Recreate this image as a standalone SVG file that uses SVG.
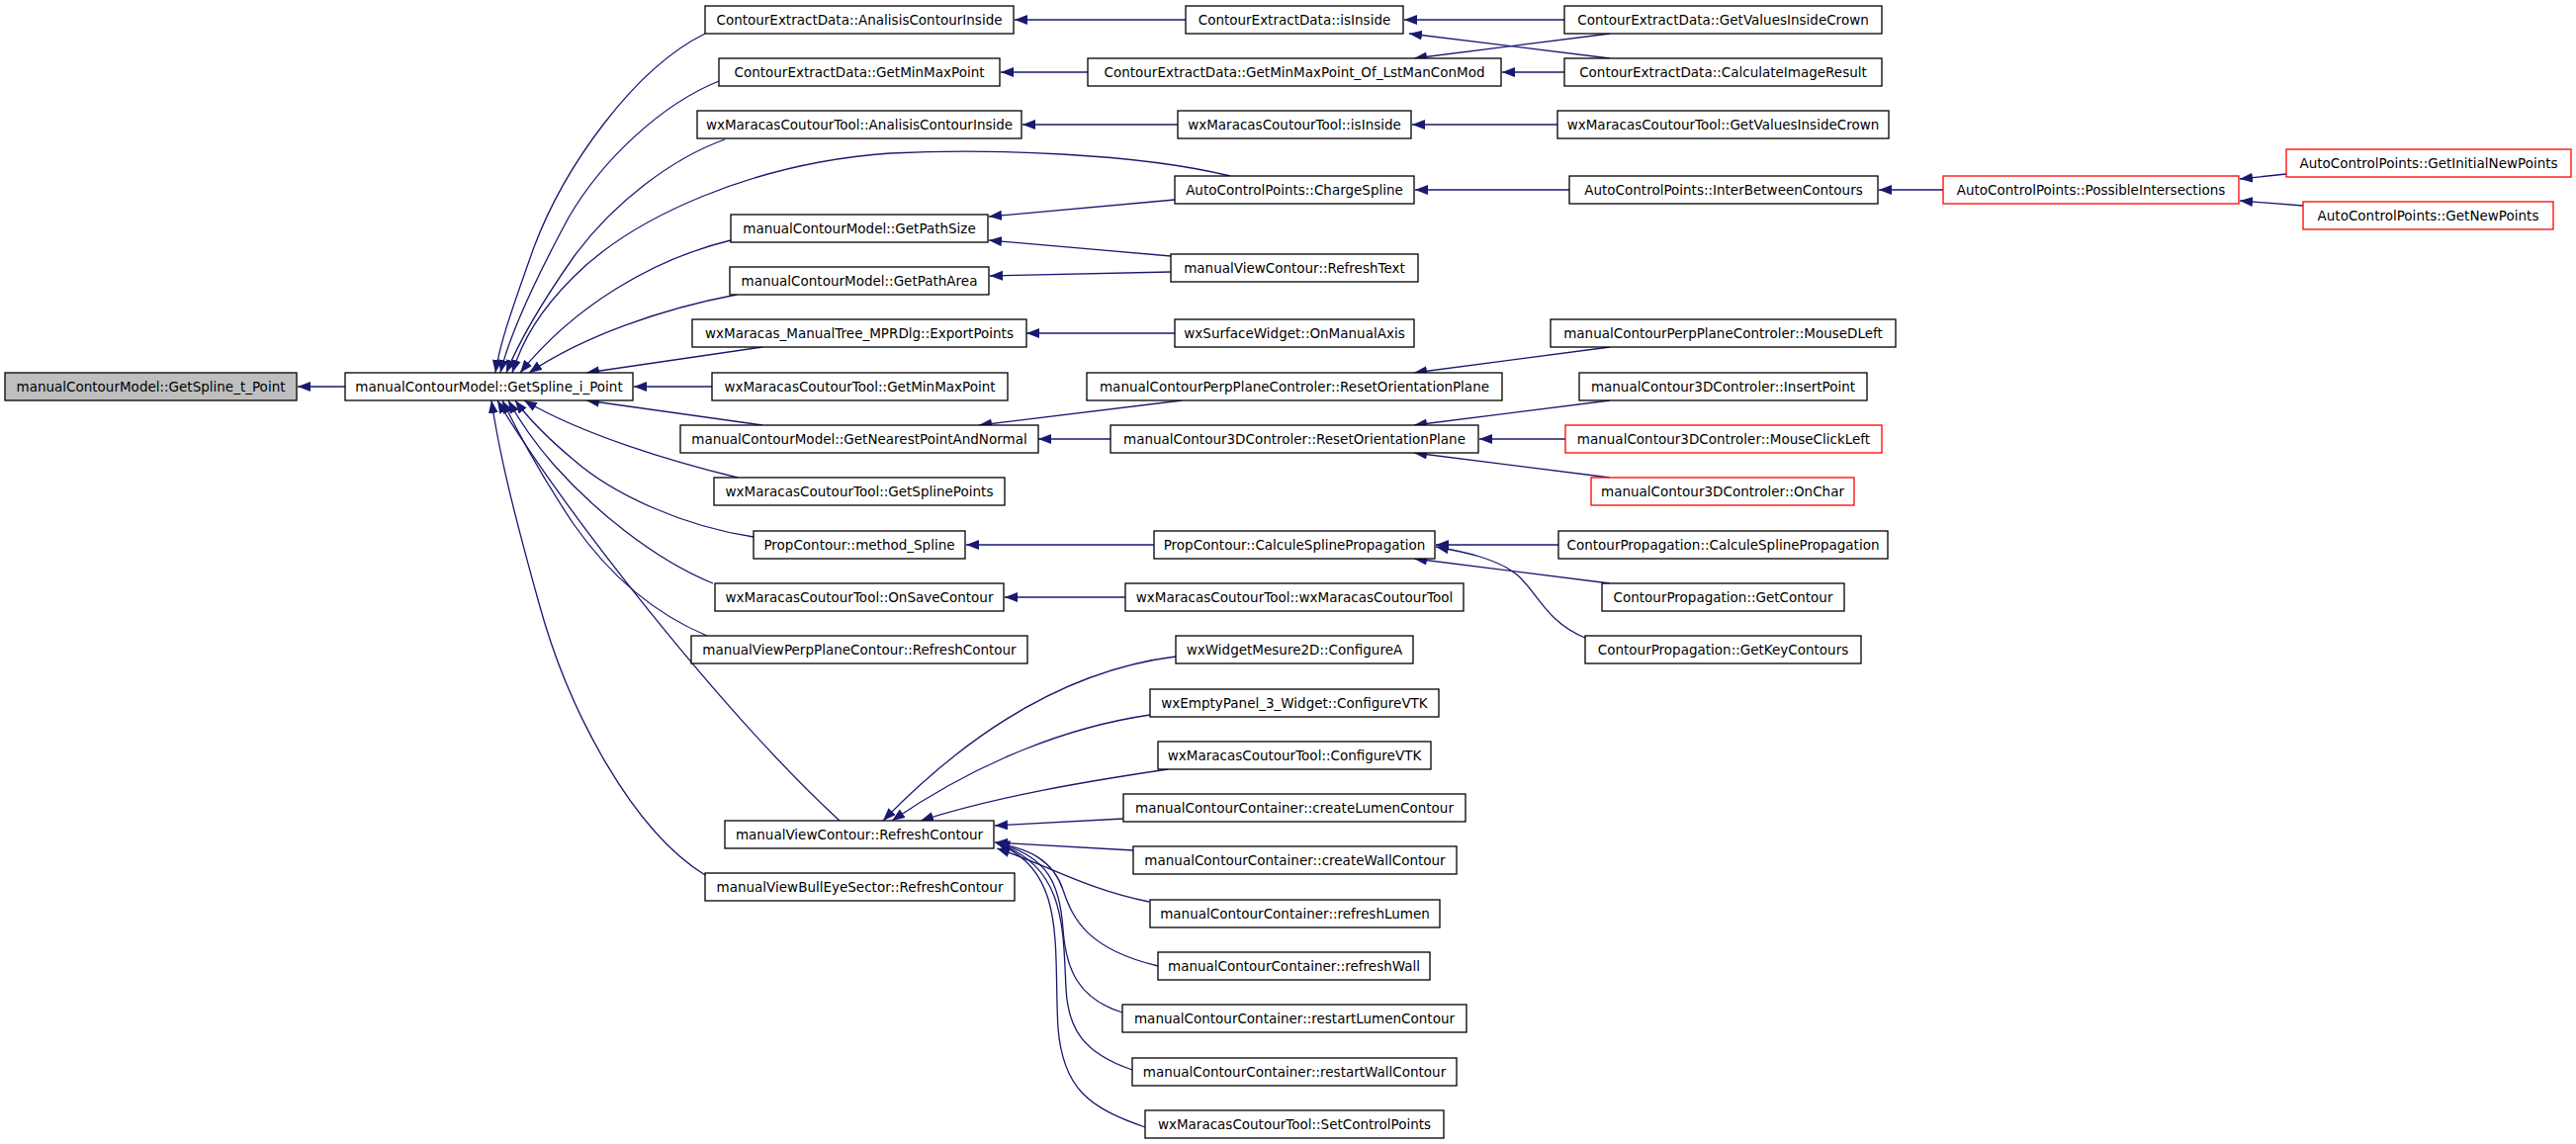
<svg xmlns="http://www.w3.org/2000/svg" width="2605" height="1157" viewBox="0 0 2605 1157">
<style>
.n rect{fill:#fff;stroke:#000;stroke-width:1.3}
.n.r rect{stroke:#ff0000}
.n.m rect{fill:#bfbfbf}
.n text{font-family:"DejaVu Sans","Liberation Sans",sans-serif;font-size:13.5px;text-anchor:middle;fill:#000}
#edges path{fill:none;stroke:#191970;stroke-width:1.3;marker-end:url(#a)}
</style>
<defs>
<marker id="a" markerUnits="userSpaceOnUse" markerWidth="14" markerHeight="11" refX="13" refY="5" orient="auto"><path d="M0,0 L13,5 L0,10 z" fill="#191970"/></marker>
</defs>
<rect width="2605" height="1157" fill="#fff"/>
<g id="edges">
<path d="M349,391 L301,391"/>
<path d="M720,391 L641,391"/>
<path d="M713,34 C640,70 570,170 540,250 C515,320 505,350 501,377"/>
<path d="M727,82 C670,105 610,160 575,220 C540,285 515,340 506,377"/>
<path d="M733,141 C680,160 620,205 580,260 C545,310 525,345 512,377"/>
<path d="M1244,178 C1150,155 1000,150 900,155 C760,165 640,220 580,280 C545,315 528,345 518,377"/>
<path d="M739,243 C660,262 580,310 526,377"/>
<path d="M745,298 C670,312 590,340 535,377"/>
<path d="M771,351 L593,377"/>
<path d="M771,430 L593,405"/>
<path d="M746,483 C680,467 590,440 530,405"/>
<path d="M762,543 C690,532 620,500 580,465 C550,440 532,420 521,405"/>
<path d="M721,590 C660,565 600,515 560,470 C540,447 525,425 514,405"/>
<path d="M715,643 C660,620 615,580 580,530 C550,485 525,440 508,405"/>
<path d="M849,830 C730,720 565,510 503,405"/>
<path d="M713,885 C640,840 575,720 545,610 C520,520 505,460 497,405"/>
<path d="M1199,20 L1026,20"/>
<path d="M1100,73 L1012,73"/>
<path d="M1191,126 L1034,126"/>
<path d="M1188,202 L1000,219"/>
<path d="M1184,259 L1000,243"/>
<path d="M1184,275 L1001,279"/>
<path d="M1188,337 L1038,337"/>
<path d="M1195,405 L990,430"/>
<path d="M1123,444 L1050,444"/>
<path d="M1167,551 L977,551"/>
<path d="M1138,604 L1016,604"/>
<path d="M1189,664 C1100,675 1000,720 893,830"/>
<path d="M1163,723 C1080,735 990,770 902,830"/>
<path d="M1181,778 C1100,790 1010,805 931,830"/>
<path d="M1136,828 L1006,835"/>
<path d="M1146,860 L1006,852"/>
<path d="M1162,912 C1100,900 1060,875 1008,858"/>
<path d="M1171,977 C1100,960 1085,930 1075,900 C1065,870 1040,858 1008,853"/>
<path d="M1135,1024 C1090,1010 1078,980 1075,940 C1072,895 1060,865 1008,853"/>
<path d="M1145,1082 C1095,1065 1080,1040 1078,1000 C1075,940 1078,875 1008,853"/>
<path d="M1158,1140 C1100,1120 1075,1100 1070,1040 C1065,960 1080,880 1008,853"/>
<path d="M1582,20 L1420,20"/>
<path d="M1628,59 L1425,34"/>
<path d="M1628,34 L1430,59"/>
<path d="M1582,73 L1519,73"/>
<path d="M1575,126 L1428,126"/>
<path d="M1587,192 L1431,192"/>
<path d="M1628,351 L1430,377"/>
<path d="M1628,405 L1430,430"/>
<path d="M1583,444 L1496,444"/>
<path d="M1628,483 L1430,458"/>
<path d="M1576,551 L1452,551"/>
<path d="M1628,590 L1430,565"/>
<path d="M1603,645 C1565,630 1555,600 1535,582 C1515,565 1480,558 1452,553"/>
<path d="M1965,192 L1900,192"/>
<path d="M2312,176 L2265,181"/>
<path d="M2329,208 L2265,203"/>
</g>
<g id="n1" class="n m"><rect x="5" y="377" width="295" height="28"/><text x="152.5" y="396">manualContourModel::GetSpline_t_Point</text></g>
<g id="n2" class="n"><rect x="349" y="377" width="291" height="28"/><text x="494.5" y="396">manualContourModel::GetSpline_i_Point</text></g>
<g id="n3" class="n"><rect x="713" y="6" width="312" height="28"/><text x="869" y="25">ContourExtractData::AnalisisContourInside</text></g>
<g id="n4" class="n"><rect x="727" y="59" width="284" height="28"/><text x="869" y="78">ContourExtractData::GetMinMaxPoint</text></g>
<g id="n5" class="n"><rect x="705" y="112" width="328" height="28"/><text x="869" y="131">wxMaracasCoutourTool::AnalisisContourInside</text></g>
<g id="n6" class="n"><rect x="739" y="217" width="260" height="28"/><text x="869" y="236">manualContourModel::GetPathSize</text></g>
<g id="n7" class="n"><rect x="738" y="270" width="262" height="28"/><text x="869" y="289">manualContourModel::GetPathArea</text></g>
<g id="n8" class="n"><rect x="700" y="323" width="338" height="28"/><text x="869" y="342">wxMaracas_ManualTree_MPRDlg::ExportPoints</text></g>
<g id="n9" class="n"><rect x="720" y="377" width="299" height="28"/><text x="869.5" y="396">wxMaracasCoutourTool::GetMinMaxPoint</text></g>
<g id="n10" class="n"><rect x="688" y="430" width="362" height="28"/><text x="869" y="449">manualContourModel::GetNearestPointAndNormal</text></g>
<g id="n11" class="n"><rect x="722" y="483" width="294" height="28"/><text x="869" y="502">wxMaracasCoutourTool::GetSplinePoints</text></g>
<g id="n12" class="n"><rect x="762" y="537" width="214" height="28"/><text x="869" y="556">PropContour::method_Spline</text></g>
<g id="n13" class="n"><rect x="723" y="590" width="292" height="28"/><text x="869" y="609">wxMaracasCoutourTool::OnSaveContour</text></g>
<g id="n14" class="n"><rect x="699" y="643" width="340" height="28"/><text x="869" y="662">manualViewPerpPlaneContour::RefreshContour</text></g>
<g id="n15" class="n"><rect x="733" y="830" width="272" height="28"/><text x="869" y="849">manualViewContour::RefreshContour</text></g>
<g id="n16" class="n"><rect x="713" y="883" width="313" height="28"/><text x="869.5" y="902">manualViewBullEyeSector::RefreshContour</text></g>
<g id="n17" class="n"><rect x="1199" y="6" width="220" height="28"/><text x="1309" y="25">ContourExtractData::isInside</text></g>
<g id="n18" class="n"><rect x="1100" y="59" width="418" height="28"/><text x="1309" y="78">ContourExtractData::GetMinMaxPoint_Of_LstManConMod</text></g>
<g id="n19" class="n"><rect x="1191" y="112" width="236" height="28"/><text x="1309" y="131">wxMaracasCoutourTool::isInside</text></g>
<g id="n20" class="n"><rect x="1188" y="178" width="242" height="28"/><text x="1309" y="197">AutoControlPoints::ChargeSpline</text></g>
<g id="n21" class="n"><rect x="1184" y="257" width="250" height="28"/><text x="1309" y="276">manualViewContour::RefreshText</text></g>
<g id="n22" class="n"><rect x="1188" y="323" width="242" height="28"/><text x="1309" y="342">wxSurfaceWidget::OnManualAxis</text></g>
<g id="n23" class="n"><rect x="1099" y="377" width="420" height="28"/><text x="1309" y="396">manualContourPerpPlaneControler::ResetOrientationPlane</text></g>
<g id="n24" class="n"><rect x="1123" y="430" width="372" height="28"/><text x="1309" y="449">manualContour3DControler::ResetOrientationPlane</text></g>
<g id="n25" class="n"><rect x="1167" y="537" width="284" height="28"/><text x="1309" y="556">PropContour::CalculeSplinePropagation</text></g>
<g id="n26" class="n"><rect x="1138" y="590" width="342" height="28"/><text x="1309" y="609">wxMaracasCoutourTool::wxMaracasCoutourTool</text></g>
<g id="n27" class="n"><rect x="1189" y="643" width="240" height="28"/><text x="1309" y="662">wxWidgetMesure2D::ConfigureA</text></g>
<g id="n28" class="n"><rect x="1163" y="697" width="292" height="28"/><text x="1309" y="716">wxEmptyPanel_3_Widget::ConfigureVTK</text></g>
<g id="n29" class="n"><rect x="1171" y="750" width="276" height="28"/><text x="1309" y="769">wxMaracasCoutourTool::ConfigureVTK</text></g>
<g id="n30" class="n"><rect x="1136" y="803" width="346" height="28"/><text x="1309" y="822">manualContourContainer::createLumenContour</text></g>
<g id="n31" class="n"><rect x="1146" y="856" width="327" height="28"/><text x="1309.5" y="875">manualContourContainer::createWallContour</text></g>
<g id="n32" class="n"><rect x="1163" y="910" width="293" height="28"/><text x="1309.5" y="929">manualContourContainer::refreshLumen</text></g>
<g id="n33" class="n"><rect x="1171" y="963" width="275" height="28"/><text x="1308.5" y="982">manualContourContainer::refreshWall</text></g>
<g id="n34" class="n"><rect x="1135" y="1016" width="348" height="28"/><text x="1309" y="1035">manualContourContainer::restartLumenContour</text></g>
<g id="n35" class="n"><rect x="1145" y="1070" width="328" height="28"/><text x="1309" y="1089">manualContourContainer::restartWallContour</text></g>
<g id="n36" class="n"><rect x="1158" y="1123" width="302" height="28"/><text x="1309" y="1142">wxMaracasCoutourTool::SetControlPoints</text></g>
<g id="n37" class="n"><rect x="1582" y="6" width="321" height="28"/><text x="1742.5" y="25">ContourExtractData::GetValuesInsideCrown</text></g>
<g id="n38" class="n"><rect x="1582" y="59" width="321" height="28"/><text x="1742.5" y="78">ContourExtractData::CalculateImageResult</text></g>
<g id="n39" class="n"><rect x="1575" y="112" width="335" height="28"/><text x="1742.5" y="131">wxMaracasCoutourTool::GetValuesInsideCrown</text></g>
<g id="n40" class="n"><rect x="1587" y="178" width="312" height="28"/><text x="1743" y="197">AutoControlPoints::InterBetweenContours</text></g>
<g id="n41" class="n"><rect x="1568" y="323" width="349" height="28"/><text x="1742.5" y="342">manualContourPerpPlaneControler::MouseDLeft</text></g>
<g id="n42" class="n"><rect x="1597" y="377" width="291" height="28"/><text x="1742.5" y="396">manualContour3DControler::InsertPoint</text></g>
<g id="n43" class="n r"><rect x="1583" y="430" width="320" height="28"/><text x="1743" y="449">manualContour3DControler::MouseClickLeft</text></g>
<g id="n44" class="n r"><rect x="1609" y="483" width="266" height="28"/><text x="1742" y="502">manualContour3DControler::OnChar</text></g>
<g id="n45" class="n"><rect x="1576" y="537" width="333" height="28"/><text x="1742.5" y="556">ContourPropagation::CalculeSplinePropagation</text></g>
<g id="n46" class="n"><rect x="1620" y="590" width="245" height="28"/><text x="1742.5" y="609">ContourPropagation::GetContour</text></g>
<g id="n47" class="n"><rect x="1603" y="643" width="279" height="28"/><text x="1742.5" y="662">ContourPropagation::GetKeyContours</text></g>
<g id="n48" class="n r"><rect x="1965" y="178" width="299" height="28"/><text x="2114.5" y="197">AutoControlPoints::PossibleIntersections</text></g>
<g id="n49" class="n r"><rect x="2312" y="151" width="288" height="28"/><text x="2456" y="170">AutoControlPoints::GetInitialNewPoints</text></g>
<g id="n50" class="n r"><rect x="2329" y="204" width="253" height="28"/><text x="2455.5" y="223">AutoControlPoints::GetNewPoints</text></g>
</svg>
